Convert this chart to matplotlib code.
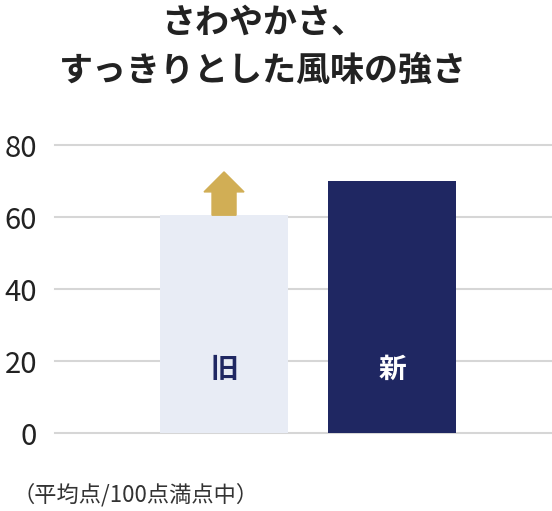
import matplotlib.pyplot as plt
from matplotlib.patches import FancyArrow

plt.rcParams['font.family'] = ['Noto Sans CJK JP', 'DejaVu Sans']

# data
categories = ['旧', '新']
scores = [60.5, 70]
yticks = [0, 20, 40, 60, 80]
title = 'さわやかさ、\nすっきりとした風味の強さ'
note = '（平均点/100点満点中）'

barColors = ['#E8ECF5', '#1F2762']
labelColors = ['#1F2762', '#FFFFFF']

fig = plt.figure(figsize=(5.52, 5.11), dpi=100)
ax = fig.add_axes([55 / 552, 78 / 511, 497 / 552, 288 / 511])

xs = list(range(len(categories)))
for y in yticks:
    ax.axhline(y, color='#D6D6D6', lw=1.5, zorder=0, clip_on=False)

ax.bar(xs, scores, width=0.762, color=barColors, zorder=2)

for x, name, c in zip(xs, categories, labelColors):
    ax.text(x, 17.5, name, ha='center', va='center', fontsize=20,
            fontweight='bold', color=c, zorder=3)

# arrow above the old bar
arrow = FancyArrow(0, scores[0], 0, 43.3 / 3.6, width=24 / 168,
                   head_width=40 / 168, head_length=20 / 3.6,
                   length_includes_head=True, color='#D1AE55', zorder=3)
ax.add_patch(arrow)

ax.set_xlim(-1.006, 1.952)
ax.set_ylim(0, 80)
ax.set_yticks(yticks)
ax.set_xticks([])
ax.tick_params(axis='y', length=0, pad=13, labelsize=21, labelcolor='#222222')
for s in ax.spines.values():
    s.set_visible(False)

fig.text(263 / 552, 1 - 46 / 511, title, ha='center', va='center',
         fontsize=24.5, fontweight='bold', color='#222222', linespacing=1.45)
fig.text(12 / 552, 1 - 495 / 511, note, ha='left', va='center',
         fontsize=16, color='#333333')

fig.savefig('out.png', dpi=100)
